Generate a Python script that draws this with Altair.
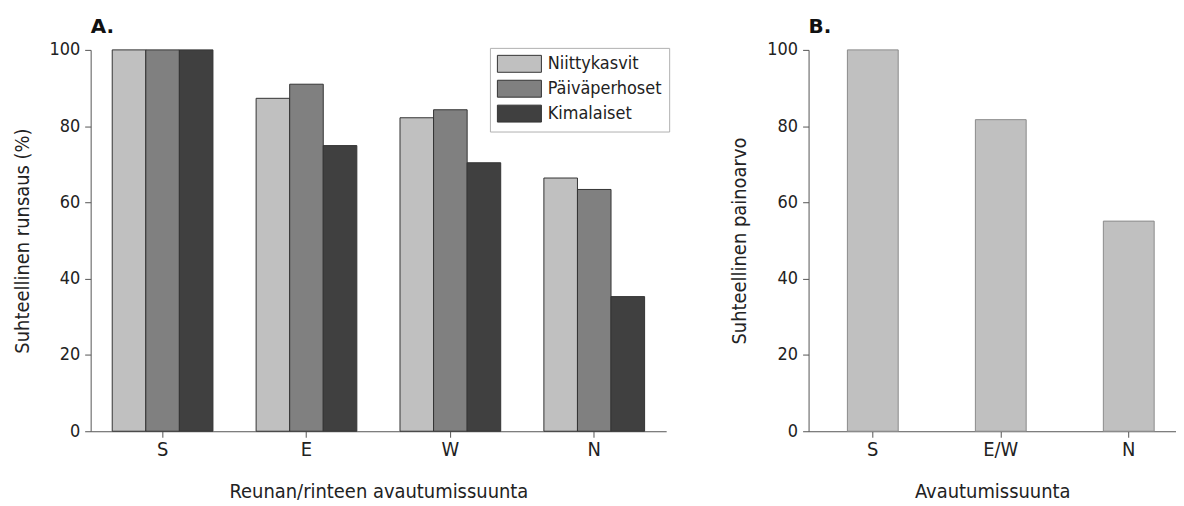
import altair as alt
import pandas as pd

# ---- data ----
directions_a = ["S", "E", "W", "N"]
series = ["Niittykasvit", "Päiväperhoset", "Kimalaiset"]
niittykasvit = [100, 87.3, 82.2, 66.4]
paivaperhoset = [100, 91.0, 84.3, 63.4]
kimalaiset = [100, 74.9, 70.4, 35.3]
series_colors = ["#c0c0c0", "#808080", "#404040"]

directions_b = ["S", "E/W", "N"]
painoarvo = [100, 81.7, 55.1]

y_ticks = [0, 20, 40, 60, 80, 100]

FONT = "DejaVu Sans Condensed, Liberation Sans, sans-serif"

rows = []
for name, vals in zip(series, [niittykasvit, paivaperhoset, kimalaiset]):
    for d, v in zip(directions_a, vals):
        rows.append({"dir": d, "series": name, "value": v})
df_a = pd.DataFrame(rows)
df_b = pd.DataFrame({"dir": directions_b, "value": painoarvo})

axis_common = dict(
    labelFont=FONT, titleFont=FONT, titleFontWeight="normal",
    titleFontSize=20, labelColor="#222", titleColor="#222",
    domainColor="#555", tickColor="#555", tickSize=6, grid=False,
)

x_axis_kw = dict(labelAngle=0, labelFontSize=20, labelPadding=2,
                 titlePadding=23, **axis_common)
y_axis_kw = dict(values=y_ticks, labelFontSize=18, labelPadding=5,
                 titlePadding=17, **axis_common)

a = alt.Chart(df_a).mark_bar(stroke="#333333", strokeWidth=1).encode(
    x=alt.X("dir:N", sort=directions_a, title="Reunan/rinteen avautumissuunta",
            scale=alt.Scale(paddingInner=0.3, paddingOuter=0.15),
            axis=alt.Axis(**x_axis_kw)),
    xOffset=alt.XOffset("series:N", sort=series,
                        scale=alt.Scale(paddingInner=0, paddingOuter=0)),
    y=alt.Y("value:Q", scale=alt.Scale(domain=[0, 100], nice=False),
            title="Suhteellinen runsaus (%)", axis=alt.Axis(**y_axis_kw)),
    color=alt.Color("series:N", sort=series,
                    scale=alt.Scale(domain=series, range=series_colors),
                    legend=alt.Legend(
                        title=None, orient="none", legendX=401, legendY=-2,
                        strokeColor="#b0b0b0", fillColor="white", padding=7,
                        symbolType="M-1,-1H4.2V1H-1Z", symbolSize=289,
                        symbolStrokeColor="#333333", symbolStrokeWidth=1,
                        symbolOpacity=1,
                        labelFont=FONT, labelFontSize=18, labelColor="#222",
                        labelOffset=33, rowPadding=3)),
).properties(
    width=578, height=383,
    title=alt.TitleParams("A.", anchor="start", frame="group", fontSize=20,
                          fontWeight="bold", font="DejaVu Sans", color="#111",
                          offset=4),
)

b = alt.Chart(df_b).mark_bar(color="#c0c0c0", stroke="#8a8a8a", strokeWidth=1).encode(
    x=alt.X("dir:N", sort=directions_b, title="Avautumissuunta",
            scale=alt.Scale(paddingInner=0.603, paddingOuter=0.237, align=0.64),
            axis=alt.Axis(**x_axis_kw)),
    y=alt.Y("value:Q", scale=alt.Scale(domain=[0, 100], nice=False),
            title="Suhteellinen painoarvo", axis=alt.Axis(**y_axis_kw)),
).properties(
    width=369, height=383,
    title=alt.TitleParams("B.", anchor="start", frame="group", fontSize=20,
                          fontWeight="bold", font="DejaVu Sans", color="#111",
                          offset=4),
)

chart = alt.hconcat(a, b, spacing=64).properties(
    padding={"left": 4, "top": 8, "right": 0, "bottom": 0}
).configure_view(stroke=None)

chart.save("out.html", embed_options={"renderer": "svg", "actions": False})
